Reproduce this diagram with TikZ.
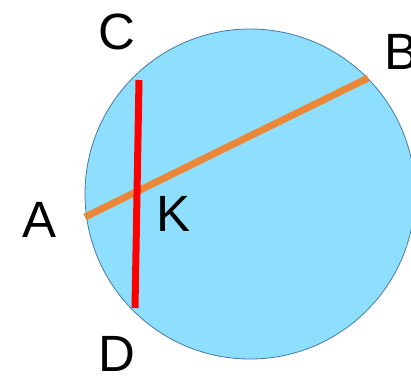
\documentclass[tikz,border=0pt]{standalone}
\usepackage{fontspec}
\setmainfont{Liberation Sans}
\usepackage{xcolor}
\usetikzlibrary{calc}
\definecolor{discblue}{RGB}{142,223,253}
\definecolor{rimblue}{RGB}{70,120,165}
\definecolor{chordorange}{RGB}{235,135,55}
\begin{document}
\begin{tikzpicture}[x=1pt, y=-1pt,
        pointlabel/.style={inner sep=0pt, font=\fontsize{51}{51}\selectfont},
        chord/.style={line width=7pt}]
      \useasboundingbox (0,0) rectangle (411,375);
      % the circle
      \node[circle, draw=rimblue, fill=discblue, line width=0.8pt,
            minimum size=330pt, inner sep=0pt] (disc) at (250,194) {};
      % chord end points
      \coordinate (a) at (85,217);
      \coordinate (b) at (368,78);
      \coordinate (c) at (139,80);
      \coordinate (d) at (135,308);
      \draw[chord, chordorange] (a) -- (b);
      \draw[chord, red] (c) -- (d);
      % labels
      \node[pointlabel] (labA) at (40,220) {A};
      \node[pointlabel] (labB) at (401,52) {B};
      \node[pointlabel] (labC) at (117,32) {C};
      \node[pointlabel] (labD) at (117,354) {D};
      \node[pointlabel] (labK) at (174,214) {K};
    \end{tikzpicture}
\end{document}
